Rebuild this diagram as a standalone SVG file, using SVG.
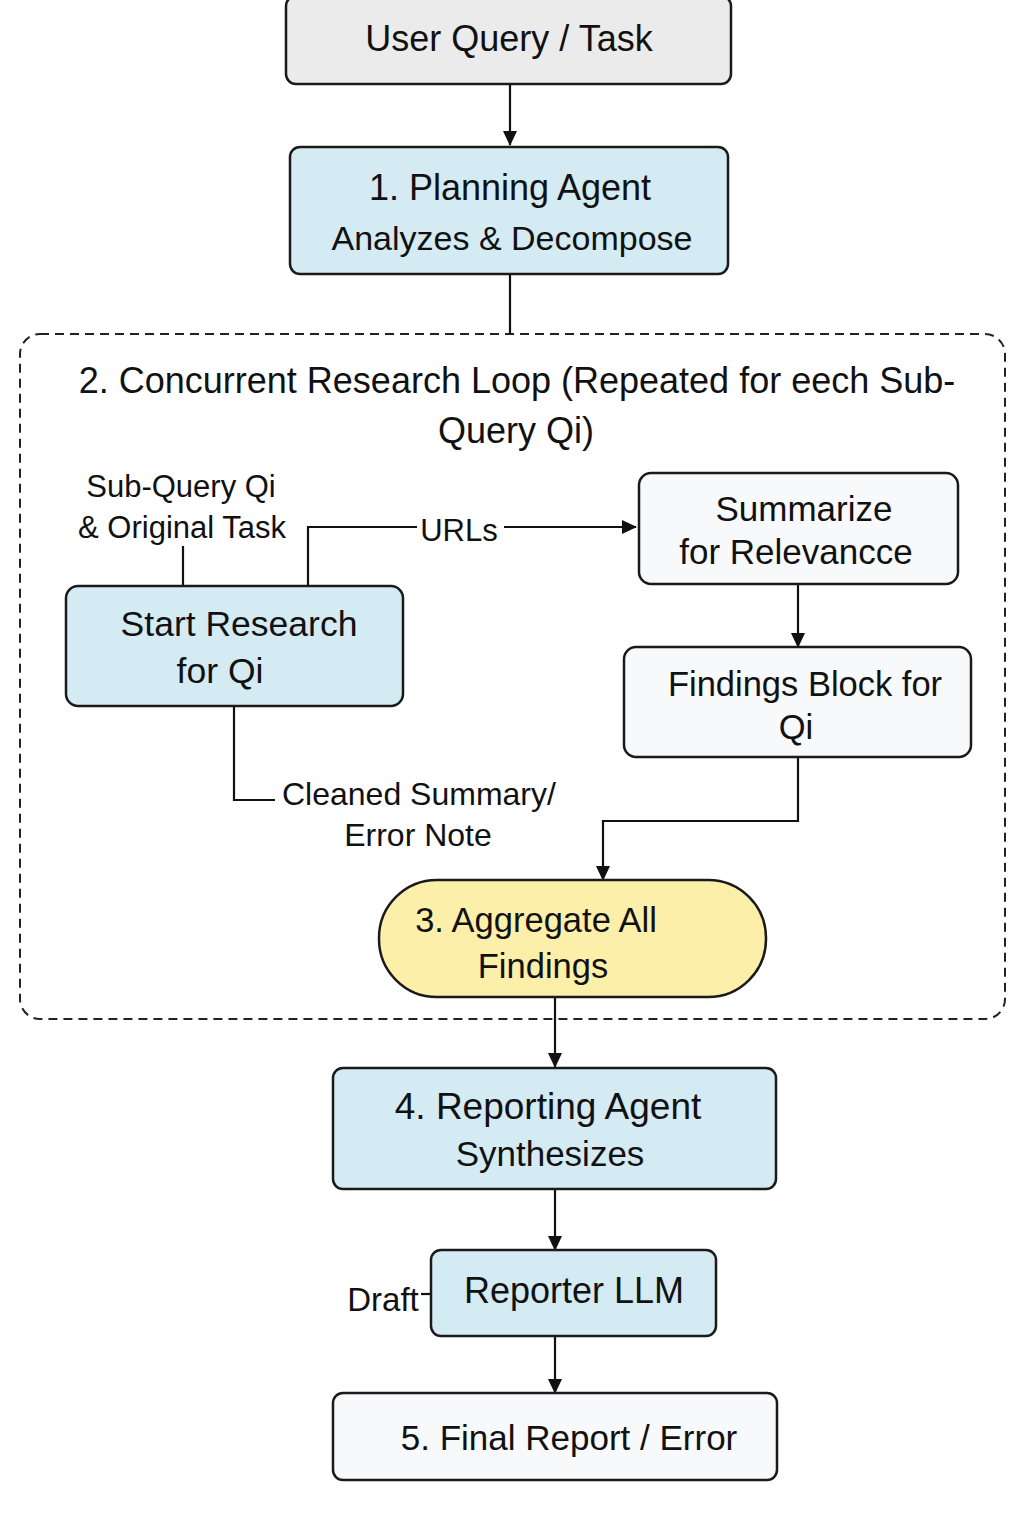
<svg xmlns="http://www.w3.org/2000/svg" width="1024" height="1536" viewBox="0 0 1024 1536">
<style>
.t{font-family:"Liberation Sans",Arial,sans-serif;fill:#111;text-anchor:middle}
.b{stroke:#1a1a1a;stroke-width:2.5}
.blue{fill:#d4ebf4}
.grey{fill:#ebebeb}
.white{fill:#f8f9fa}
.yellow{fill:#fcefaa}
.c{fill:none;stroke:#111;stroke-width:2.2}
</style>
<defs>
<marker id="ah" markerWidth="16" markerHeight="16" refX="14" refY="7" orient="auto" markerUnits="userSpaceOnUse">
<path d="M0,0 L15,7 L0,14 Z" fill="#111"/>
</marker>
</defs>
<rect width="1024" height="1536" fill="#fff"/>

<g id="loop">
<rect x="20" y="334" width="985" height="685" rx="20" fill="none" stroke="#222" stroke-width="2" stroke-dasharray="9,6"/>
<text class="t" x="517" y="393" font-size="36">2. Concurrent Research Loop (Repeated for eech Sub-</text>
<text class="t" x="516" y="443" font-size="36">Query Qi)</text>
</g>

<g id="connectors">
<line class="c" x1="510" y1="84" x2="510" y2="145" marker-end="url(#ah)"/>
<line class="c" x1="510" y1="274" x2="510" y2="334"/>
<line class="c" x1="183" y1="546" x2="183" y2="586"/>
<polyline class="c" points="308,586 308,527 417,527"/>
<line class="c" x1="504" y1="527" x2="636" y2="527" marker-end="url(#ah)"/>
<line class="c" x1="798" y1="584" x2="798" y2="647" marker-end="url(#ah)"/>
<polyline class="c" points="798,757 798,821 603,821 603,880" marker-end="url(#ah)"/>
<polyline class="c" points="234,706 234,800 275,800"/>
<line class="c" x1="555" y1="997" x2="555" y2="1067" marker-end="url(#ah)"/>
<line class="c" x1="555" y1="1189" x2="555" y2="1250" marker-end="url(#ah)"/>
<line class="c" x1="555" y1="1336" x2="555" y2="1393" marker-end="url(#ah)"/>
<line class="c" x1="421" y1="1294" x2="431" y2="1294"/>
<text class="t" x="459" y="541" font-size="31">URLs</text>
<text class="t" x="181" y="497" font-size="31">Sub-Query Qi</text>
<text class="t" x="182" y="538" font-size="31">&amp; Original Task</text>
<text class="t" x="282" y="805" font-size="32" style="text-anchor:start">Cleaned Summary/</text>
<text class="t" x="418" y="846" font-size="32">Error Note</text>
<text class="t" x="383" y="1311" font-size="33">Draft</text>
</g>

<g id="user-query">
<rect class="b grey" x="286" y="-4" width="445" height="88" rx="10"/>
<text class="t" x="509" y="51" font-size="36">User Query / Task</text>
</g>

<g id="planning">
<rect class="b blue" x="290" y="147" width="438" height="127" rx="10"/>
<text class="t" x="510" y="200" font-size="36">1. Planning Agent</text>
<text class="t" x="512" y="250" font-size="34">Analyzes &amp; Decompose</text>
</g>

<g id="start-research">
<rect class="b blue" x="66" y="586" width="337" height="120" rx="12"/>
<text class="t" x="239" y="636" font-size="35.5">Start Research</text>
<text class="t" x="220" y="683" font-size="35.5">for Qi</text>
</g>

<g id="summarize">
<rect class="b white" x="639" y="473" width="319" height="111" rx="12"/>
<text class="t" x="804" y="521" font-size="35">Summarize</text>
<text class="t" x="796" y="564" font-size="35">for Relevancce</text>
</g>

<g id="findings">
<rect class="b white" x="624" y="647" width="347" height="110" rx="12"/>
<text class="t" x="805" y="696" font-size="34.5">Findings Block for</text>
<text class="t" x="796" y="739" font-size="34.5">Qi</text>
</g>

<g id="aggregate">
<rect class="b yellow" x="379" y="880" width="387" height="117" rx="58"/>
<text class="t" x="536" y="932" font-size="34.5">3. Aggregate All</text>
<text class="t" x="543" y="978" font-size="34.5">Findings</text>
</g>

<g id="reporting">
<rect class="b blue" x="333" y="1068" width="443" height="121" rx="10"/>
<text class="t" x="548" y="1119" font-size="37">4. Reporting Agent</text>
<text class="t" x="550" y="1166" font-size="35">Synthesizes</text>
</g>

<g id="reporter-llm">
<rect class="b blue" x="431" y="1250" width="285" height="86" rx="10"/>
<text class="t" x="574" y="1303" font-size="36">Reporter LLM</text>
</g>

<g id="final">
<rect class="b white" x="333" y="1393" width="444" height="87" rx="10"/>
<text class="t" x="569" y="1450" font-size="35">5. Final Report / Error</text>
</g>
</svg>
